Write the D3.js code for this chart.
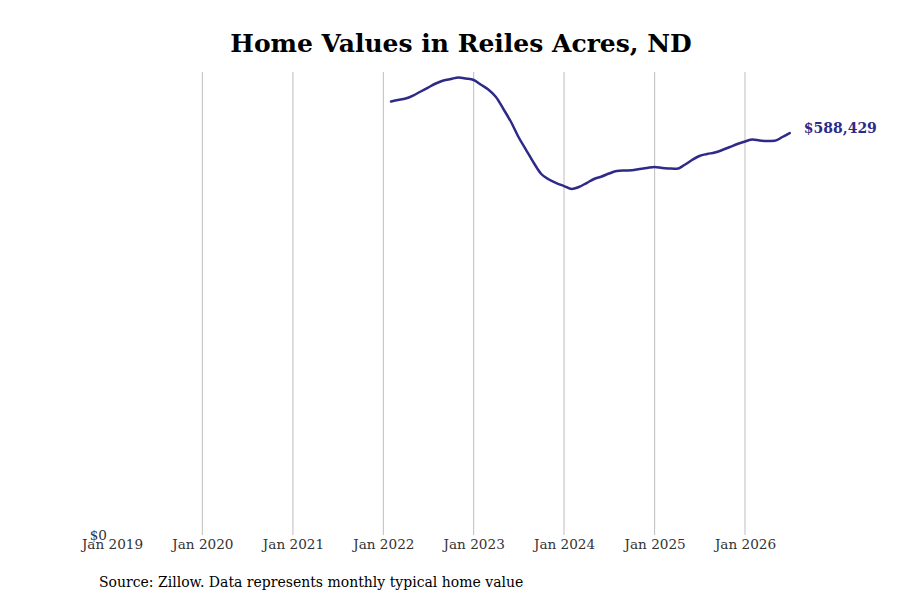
<!DOCTYPE html>
<html>
<head>
<meta charset="utf-8">
<script src="https://cdn.jsdelivr.net/npm/d3@7"></script>
<style>
  body { margin: 0; background: #fff; }
  svg { display: block; }
</style>
</head>
<body>
<div class="chart"></div>
<script>
// monthly typical home value, Feb 2022 .. Jul 2026
var startMonth = "2022-02";
var homeValues = [
  634500, 636700, 638900, 643300, 649200, 655000, 660900, 665300, 667500, 669700,
  668200, 666000, 658700, 652100, 641100, 623600, 604500, 582600, 563500, 544500,
  528400, 520400, 515200, 510800, 506500, 509400, 515200, 521100, 524800, 529100,
  532800, 533500, 533800, 535700, 537200, 538700, 537200, 536500, 536000, 541600,
  548900, 554800, 557700, 559900, 563500, 567900, 572300, 576000, 578900, 577400,
  576700, 577000, 582600, 588429
];
var tickYears = [2019, 2020, 2021, 2022, 2023, 2024, 2025, 2026];
var yTicks = [0];

var svgWidth = 900;
var svgHeight = 600;
var margin = { top: 72, right: 155, bottom: 65, left: 112 };
var width = svgWidth - margin.left - margin.right;
var height = svgHeight - margin.top - margin.bottom;
var lineColor = "#2e2a88";

var parseMonth = d3.timeParse("%Y-%m");
var first = parseMonth(startMonth);
var data = homeValues.map(function(v, i) {
  return { date: d3.timeMonth.offset(first, i), value: v };
});

var svg = d3.select(".chart")
  .append("svg")
  .attr("width", svgWidth)
  .attr("height", svgHeight);

var chartGroup = svg.append("g")
  .attr("transform", `translate(${margin.left}, ${margin.top})`);

// scales: Jan 2019 at the left edge, one month ~7.53px
var x0 = new Date(2019, 0, 1);
var x = d3.scaleTime()
  .domain([x0, d3.timeMonth.offset(x0, Math.round(width / 7.53))])
  .range([0, width]);

var y = d3.scaleLinear()
  .domain([0, d3.max(data, d => d.value) * 1.012])
  .range([height, 0]);

// vertical grid lines (none at the first tick)
chartGroup.append("g")
  .selectAll("line")
  .data(tickYears.slice(1))
  .join("line")
  .attr("x1", d => x(new Date(d, 0, 1)))
  .attr("x2", d => x(new Date(d, 0, 1)))
  .attr("y1", 0)
  .attr("y2", height)
  .attr("stroke", "#bdbdbd")
  .attr("stroke-width", 1);

// x axis
var xAxis = chartGroup.append("g")
  .attr("transform", `translate(0, ${height})`)
  .call(d3.axisBottom(x)
    .tickValues(tickYears.map(d => new Date(d, 0, 1)))
    .tickFormat(d3.timeFormat("Jan %Y"))
    .tickSize(0)
    .tickPadding(4));
xAxis.select(".domain").remove();
xAxis.selectAll("text")
  .attr("font-family", "DejaVu Serif")
  .attr("font-size", 13.6)
  .attr("fill", "#333");

// y axis, only $0
var yAxis = chartGroup.append("g")
  .call(d3.axisLeft(y)
    .tickValues(yTicks)
    .tickFormat(d => "$" + d3.format(",")(d))
    .tickSize(0)
    .tickPadding(5));
yAxis.select(".domain").remove();
yAxis.selectAll("text")
  .attr("font-family", "DejaVu Serif")
  .attr("font-size", 13.6)
  .attr("fill", "#333");

// the line
var line = d3.line()
  .x(d => x(d.date))
  .y(d => y(d.value))
  .curve(d3.curveMonotoneX);

chartGroup.append("path")
  .datum(data)
  .attr("d", line)
  .attr("fill", "none")
  .attr("stroke", lineColor)
  .attr("stroke-width", 2.5)
  .attr("stroke-linejoin", "round")
  .attr("stroke-linecap", "round");

// end label
var last = data[data.length - 1];
chartGroup.append("text")
  .attr("x", x(last.date) + 14)
  .attr("y", y(last.value) - 5)
  .attr("dy", "0.35em")
  .attr("font-family", "DejaVu Serif")
  .attr("font-weight", "bold")
  .attr("font-size", 14)
  .attr("fill", lineColor)
  .text("$" + d3.format(",")(last.value));

// title
svg.append("text")
  .attr("x", 461)
  .attr("y", 52)
  .attr("text-anchor", "middle")
  .attr("font-family", "DejaVu Serif")
  .attr("font-weight", "bold")
  .attr("font-size", 25)
  .attr("fill", "#000")
  .text("Home Values in Reiles Acres, ND");

// source
svg.append("text")
  .attr("x", 99)
  .attr("y", 587)
  .attr("font-family", "DejaVu Serif")
  .attr("font-size", 14)
  .attr("fill", "#000")
  .text("Source: Zillow. Data represents monthly typical home value");
</script>
</body>
</html>
